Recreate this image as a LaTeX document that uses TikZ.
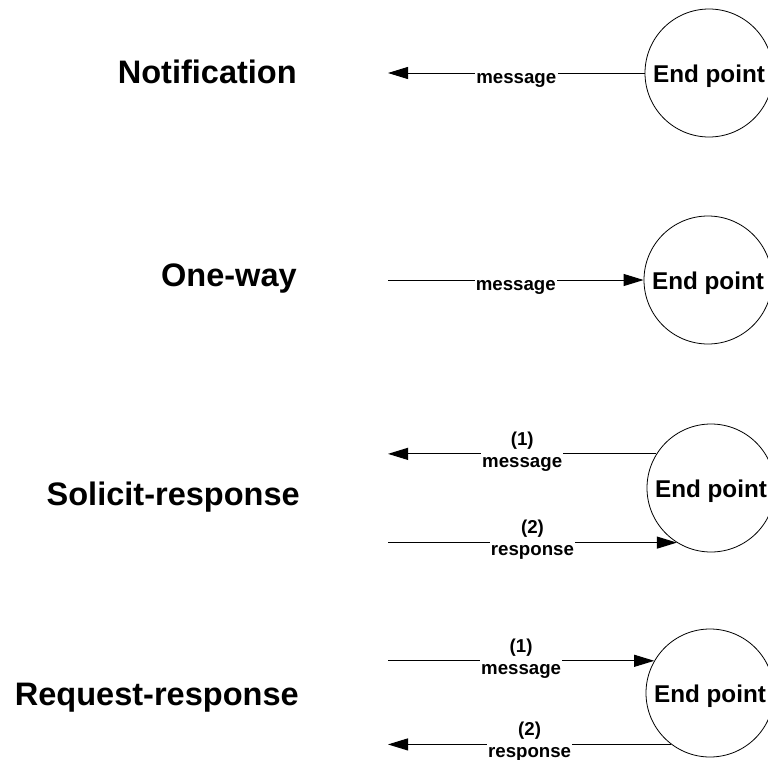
\documentclass[tikz,border=0pt]{standalone}
\usepackage{fontspec}
\setmainfont{Liberation Sans}
\usetikzlibrary{arrows.meta}
\tikzset{
	endpoint/.style={draw, circle, line width=0.6pt, inner sep=0pt, minimum size=96pt, text height=17.5pt, text depth=3.8pt, font=\fontsize{18.2}{20}\selectfont\bfseries},
	% pattern names left of each row
	title/.style={anchor=base east, inner sep=0pt, font=\fontsize{24.4}{28}\selectfont\bfseries},
	msg/.style={fill=white, inner sep=1pt, align=center, font=\fontsize{14}{16.5}\selectfont\bfseries},
}

\begin{document}
\begin{tikzpicture}[x=0.75pt, y=-0.75pt]
	\clip (0,0) rectangle (768,760);
	\coordinate (lx) at (388,0);
	
	\node (ep1) [endpoint] at (709,73) {End point};
	\node (t1) [title] at (297,83) {Notification};
	\coordinate (f1) at (lx |- ep1.west);
	
	\node (ep2) [endpoint] at (708,280) {End point};
	\node (t2) [title] at (297,286) {One-way};
	\coordinate (f2) at (lx |- ep2.west);
	
	\node (ep3) [endpoint] at (711,488) {End point};
	\node (t3) [title] at (300,505) {Solicit-response};
	\coordinate (f3a) at (lx |- ep3.148);
	\coordinate (f3b) at (lx |- ep3.238);
	
	\node (ep4) [endpoint] at (710,693) {End point};
	\node (t4) [title] at (299,705) {Request-response};
	\coordinate (f4a) at (lx |- ep4.150);
	\coordinate (f4b) at (lx |- ep4.233);
	
	\begin{scope}[line width=0.75pt, black, ->, >={Triangle[length=15pt, width=9pt]}]
		\draw (ep1.west) -- (f1) node (m1) [msg, midway, anchor=north, yshift=1pt] {message};
		
		\draw (f2) -- (ep2.west) node (m2) [msg, midway, anchor=north, yshift=1pt] {message};
		
		\draw (ep3.148) -- (f3a) node (m3a) [msg, midway, yshift=1.9pt] {(1)\\message};
		\draw (f3b) -- (ep3.238) node (m3b) [msg, midway, yshift=1.9pt] {(2)\\response};
		
		\draw (f4a) -- (ep4.150) node (m4a) [msg, midway, yshift=1.9pt] {(1)\\message};
		\draw (ep4.233) -- (f4b) node (m4b) [msg, midway, yshift=1.9pt] {(2)\\response};
	\end{scope}
	
\end{tikzpicture}
\end{document}
